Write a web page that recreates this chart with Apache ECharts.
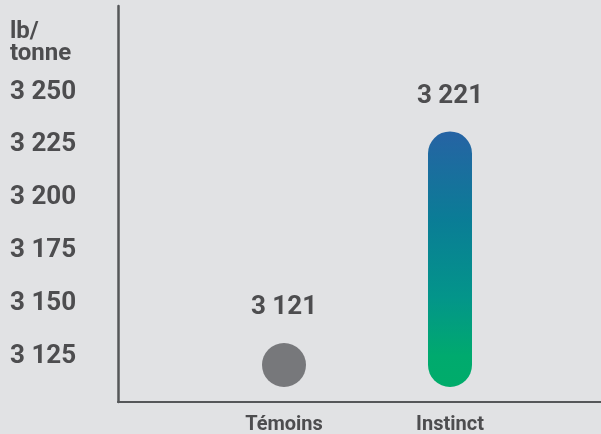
<!DOCTYPE html>
<html>
<head>
<meta charset="utf-8">
<script src="https://cdn.jsdelivr.net/npm/echarts@6/dist/echarts.min.js"></script>
<style>
html,body{margin:0;padding:0;background:#e1e2e4;}
#chart{width:601px;height:434px;}
</style>
</head>
<body>
<div id="chart"></div>
<script>
const categories = ['Témoins', 'Instinct'];
const startValues = [3121, 3121];
const endValues = [3121, 3221];
const valueLabels = ['3 121', '3 221'];
const yTickValues = [3125, 3150, 3175, 3200, 3225, 3250];
const yTickLabels = ['3 125', '3 150', '3 175', '3 200', '3 225', '3 250'];
const unitLabel = 'lb/\ntonne';

const TEXT = '#4d4d4f';
const FONT = 'Roboto';

const xCats = [''].concat(categories, ['']);
const seriesData = categories.map((c, i) => [c, startValues[i], endValues[i], i]);

const chart = echarts.init(document.getElementById('chart'), null, {renderer: 'canvas'});
chart.setOption({
  backgroundColor: '#e1e2e4',
  animation: false,
  title: {
    text: unitLabel,
    left: 10, top: 21, padding: 0,
    textStyle: {color: TEXT, fontFamily: FONT, fontWeight: 'bold', fontSize: 24, lineHeight: 22}
  },
  grid: {left: 118, top: 6, width: 498, height: 396, containLabel: false, outerBoundsMode: 'none'},
  xAxis: {
    type: 'category',
    data: xCats,
    boundaryGap: false,
    axisLine: {show: true, lineStyle: {color: '#555759', width: 2}},
    axisTick: {show: false},
    axisLabel: {color: TEXT, fontFamily: FONT, fontWeight: 'bold', fontSize: 20, margin: 13, interval: 0},
    splitLine: {show: false}
  },
  yAxis: {
    type: 'value',
    min: 3103.5,
    max: 3290.7,
    axisLine: {show: true, lineStyle: {color: '#555759', width: 2.5}},
    axisTick: {show: false},
    splitLine: {show: false},
    axisLabel: {
      customValues: yTickValues,
      formatter: v => yTickLabels[yTickValues.indexOf(v)] || '',
      color: TEXT, fontFamily: FONT, fontWeight: 'bold', fontSize: 26,
      align: 'left', margin: 108
    }
  },
  series: [{
    type: 'custom',
    data: seriesData,
    encode: {x: 0, y: [1, 2]},
    renderItem: function (params, api) {
      const idx = api.value(3);
      const p0 = api.coord([api.value(0), api.value(1)]);
      const p1 = api.coord([api.value(0), api.value(2)]);
      const r = 22;
      const top = Math.min(p0[1], p1[1]) - r;
      const bottom = Math.max(p0[1], p1[1]) + r;
      const fill = idx === 0 ? '#77787b' : new echarts.graphic.LinearGradient(0, 0, 0, 1, [
        {offset: 0, color: '#2663a4'},
        {offset: 0.35, color: '#0a7d96'},
        {offset: 0.65, color: '#03958a'},
        {offset: 0.88, color: '#00aa6e'},
        {offset: 1, color: '#00ac6a'}
      ]);
      return {
        type: 'group',
        children: [{
          type: 'rect',
          shape: {x: p0[0] - r, y: top, width: 2 * r, height: bottom - top, r: r},
          style: {fill: fill}
        }, {
          type: 'text',
          x: p0[0], y: top - 35,
          style: {
            text: valueLabels[idx], fill: TEXT, font: 'bold 26px ' + FONT,
            align: 'center', verticalAlign: 'middle'
          }
        }]
      };
    }
  }]
});
</script>
</body>
</html>
